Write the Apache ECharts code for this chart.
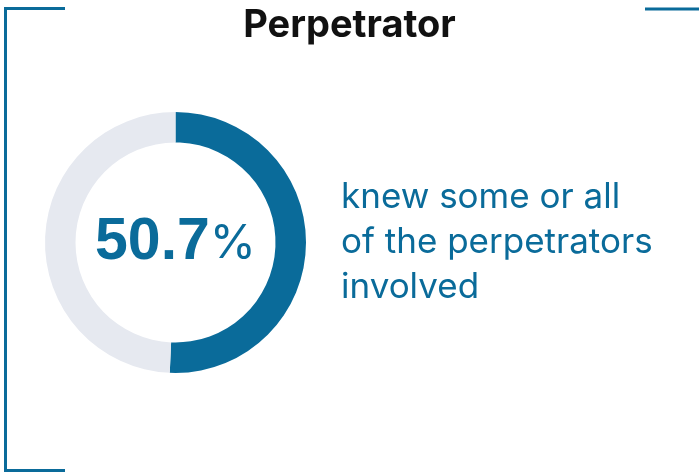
<!DOCTYPE html>
<html>
<head>
<meta charset="utf-8">
<script src="https://cdn.jsdelivr.net/npm/echarts@6/dist/echarts.min.js"></script>
<style>
  html, body { margin: 0; padding: 0; background: #fff; }
  #donut { width: 699px; height: 473px; }
</style>
</head>
<body>
<div id="donut"></div>
<script>
var titleText = 'Perpetrator';
var sliceNames = ['knew', 'other'];
var sliceValues = [50.7, 49.3];
var captionLines = ['knew some or all', 'of the perpetrators', 'involved'];

var blue = '#0a6b9a';
var grey = '#e6e9f0';

var donutChart = echarts.init(document.getElementById('donut'));

var donutData = [];
for (var i = 0; i < sliceNames.length; ++i) {
    donutData.push({
        name: sliceNames[i],
        value: sliceValues[i],
        itemStyle: { color: i == 0 ? blue : grey },
        label: { show: i == 0 }
    });
}

donutOption = {
    animation: false,
    title: {
        text: titleText,
        left: 'center',
        top: 2,
        textStyle: {
            fontFamily: 'Inter',
            fontSize: 38,
            fontWeight: 'bold',
            letterSpacing: 2,
            color: '#111'
        }
    },
    graphic: [
        // left bracket
        { type: 'polyline', shape: { points: [[65, 8.5], [5.5, 8.5], [5.5, 470.5], [65, 470.5]] },
          style: { stroke: blue, lineWidth: 3, fill: null } },
        // right top tick
        { type: 'line', shape: { x1: 645, y1: 9, x2: 699, y2: 9 },
          style: { stroke: blue, lineWidth: 3 } },
        {
            type: 'text',
            left: 341,
            top: 175,
            style: {
                text: captionLines.join('\n'),
                fontFamily: 'Inter',
                fontSize: 35,
                lineHeight: 45,
                fill: blue
            }
        }
    ],
    series: [
        {
            type: 'pie',
            center: [175.5, 242.5],
            radius: [100, 130.5],
            startAngle: 90,
            clockwise: true,
            silent: true,
            labelLine: { show: false },
            label: {
                position: 'center',
                formatter: function (p) {
                    return '{num|' + p.value + '}{pct|%}';
                },
                rich: {
                    num: { fontFamily: 'Liberation Sans', fontSize: 59, fontWeight: 'bold', color: blue },
                    pct: { fontFamily: 'Inter', fontSize: 47, color: blue, padding: [2, 0, 0, 0] }
                }
            },
            data: donutData
        }
    ]
};

donutChart.setOption(donutOption);
</script>
</body>
</html>
